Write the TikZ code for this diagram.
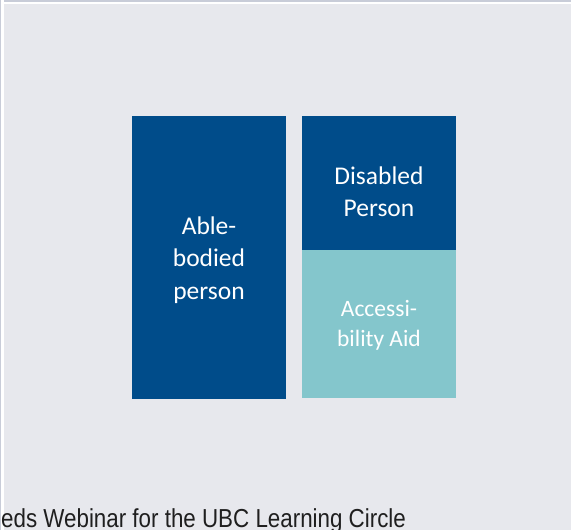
\documentclass[tikz,border=0pt]{standalone}
\usepackage{fontspec}
\setmainfont{Carlito}
\newfontfamily\footfont[FakeStretch=0.86]{Liberation Sans}
\definecolor{bg}{HTML}{E7E8ED}
\definecolor{darkblue}{HTML}{004C8A}
\definecolor{tealaid}{HTML}{84C6CC}
\definecolor{edgegray}{HTML}{C8CCD8}
\begin{document}
\begin{tikzpicture}[x=1pt,y=-1pt,
  boxbase/.style={draw=none, inner sep=0pt, outer sep=0pt, minimum width=154pt},
  lbl/.style={text=white, align=center, inner sep=0pt},
  bigtxt/.style={lbl, font=\fontsize{25.5}{32.3}\selectfont},
  smalltxt/.style={lbl, font=\fontsize{23.5}{30}\selectfont}]
\useasboundingbox (0,0) rectangle (571,530);
\clip (0,0) rectangle (571,530);
\fill[bg] (0,0) rectangle (571,530);
\fill[edgegray] (0,0) rectangle (571,2);
\fill[white] (0,2) rectangle (571,4);
\fill[edgegray] (0,0) rectangle (1,530);
\fill[white] (1,0) rectangle (3.5,530);
% boxes
\node[boxbase, fill=darkblue, minimum height=283pt] (able) at (209,257.5) {};
\node[boxbase, fill=darkblue, minimum height=134pt] (disabled) at (379,183) {};
\node[boxbase, fill=tealaid, minimum height=148pt] (aid) at (379,324) {};
% labels
\node[bigtxt] (abletext) at (209,260) {Able-\\bodied\\person};
\node[bigtxt] (distext) at (379,192) {Disabled\\Person};
\node[smalltxt] (aidtext) at (379,325) {Accessi-\\bility Aid};
% footer
\node[anchor=base west, inner sep=0pt, text=black!88, font=\footfont\fontsize{26}{30}\selectfont] (footer) at (1,527) {eds Webinar for the UBC Learning Circle};
\end{tikzpicture}
\end{document}
